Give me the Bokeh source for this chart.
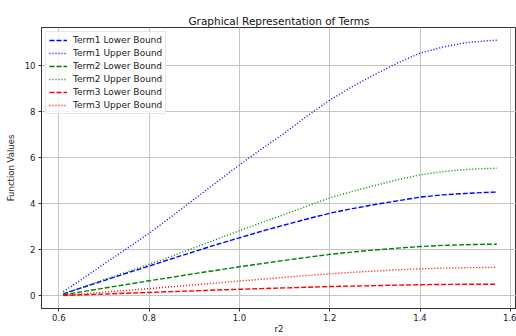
from bokeh.plotting import figure
from bokeh.models import Range1d, FixedTicker, PrintfTickFormatter, Legend, LegendItem
from bokeh.embed import file_html
from bokeh.resources import INLINE

r2 = [0.61, 0.65, 0.70, 0.75, 0.80, 0.85, 0.90, 0.95, 1.00, 1.05, 1.10,
      1.15, 1.20, 1.25, 1.30, 1.35, 1.40, 1.45, 1.50, 1.55, 1.57]

term1_upper = [0.18, 0.70, 1.38, 2.04, 2.72, 3.45, 4.20, 4.95, 5.69, 6.40, 7.08,
               7.82, 8.51, 9.10, 9.63, 10.13, 10.56, 10.82, 11.01, 11.10, 11.12]
term1_lower = [0.08, 0.34, 0.66, 0.98, 1.29, 1.61, 1.92, 2.23, 2.52, 2.81, 3.08,
               3.34, 3.59, 3.79, 3.97, 4.13, 4.29, 4.39, 4.45, 4.50, 4.51]
term2_upper = [0.09, 0.36, 0.70, 1.03, 1.37, 1.72, 2.09, 2.46, 2.83, 3.19, 3.54,
               3.90, 4.26, 4.54, 4.80, 5.05, 5.26, 5.40, 5.49, 5.54, 5.55]
term2_lower = [0.04, 0.17, 0.33, 0.49, 0.65, 0.80, 0.96, 1.11, 1.26, 1.40, 1.54,
               1.67, 1.80, 1.90, 1.99, 2.07, 2.14, 2.19, 2.22, 2.24, 2.24]
term3_upper = [0.02, 0.08, 0.16, 0.23, 0.31, 0.39, 0.47, 0.56, 0.64, 0.72, 0.80,
               0.88, 0.95, 1.02, 1.07, 1.13, 1.17, 1.20, 1.22, 1.23, 1.24]
term3_lower = [0.01, 0.04, 0.07, 0.11, 0.14, 0.18, 0.21, 0.25, 0.28, 0.31, 0.34,
               0.37, 0.40, 0.42, 0.44, 0.46, 0.48, 0.49, 0.50, 0.50, 0.50]

x_ticks = [0.6, 0.8, 1.0, 1.2, 1.4, 1.6]
y_ticks = [0, 2, 4, 6, 8, 10]

series = [
    ("Term1 Lower Bound", term1_lower, "#0000ff", "5 2"),
    ("Term1 Upper Bound", term1_upper, "#0000ff", "1 2"),
    ("Term2 Lower Bound", term2_lower, "#008000", "5 2"),
    ("Term2 Upper Bound", term2_upper, "#008000", "1 2"),
    ("Term3 Lower Bound", term3_lower, "#ff0000", "5 2"),
    ("Term3 Upper Bound", term3_upper, "#ff0000", "1 2"),
]

FONT = "DejaVu Sans"

p = figure(width=516, height=336, output_backend="svg", toolbar_location=None,
           x_range=Range1d(0.5617, 1.6137), y_range=Range1d(-0.556, 11.674),
           min_border_left=41, min_border_right=0, min_border_top=27, min_border_bottom=24,
           title="Graphical Representation of Terms")

p.title.align = "center"
p.title.text_font = FONT
p.title.text_font_size = "10.5px"
p.title.text_font_style = "normal"
p.title.text_color = "#111111"
p.title.standoff = 2

p.background_fill_color = "white"
p.border_fill_color = "white"
p.outline_line_color = "#333333"
p.outline_line_width = 1

for ax in (p.xaxis[0], p.yaxis[0]):
    ax.axis_line_color = "#333333"
    ax.axis_line_width = 1
    ax.major_tick_line_color = "#333333"
    ax.major_tick_out = 3
    ax.major_tick_in = 0
    ax.minor_tick_line_color = None
    ax.major_label_text_font = FONT
    ax.major_label_text_font_size = "8.5px"
    ax.major_label_text_color = "#222222"
    ax.major_label_standoff = 3
    ax.axis_label_text_font = FONT
    ax.axis_label_text_font_size = "8.5px"
    ax.axis_label_text_font_style = "normal"
    ax.axis_label_text_color = "#222222"

p.xaxis.ticker = FixedTicker(ticks=x_ticks)
p.xaxis.formatter = PrintfTickFormatter(format="%.1f")
p.yaxis.ticker = FixedTicker(ticks=y_ticks)
p.yaxis.formatter = PrintfTickFormatter(format="%d")

p.yaxis.axis_label = "Function Values"
p.yaxis.axis_label_standoff = 6
p.xaxis.axis_label = "r2"
p.xaxis.axis_label_standoff = 0
p.xaxis.major_label_standoff = 2

p.grid.grid_line_color = "#c4c4c4"
p.grid.grid_line_width = 1

items = []
for name, ys, color, dash in series:
    r = p.line(r2, ys, line_color=color, line_width=1.4, line_dash=dash)
    items.append(LegendItem(label=name, renderers=[r]))

legend = Legend(items=items, location="top_left")
legend.margin = 4
legend.padding = 3
legend.spacing = 3
legend.glyph_width = 18
legend.glyph_height = 10
legend.label_height = 10
legend.label_standoff = 6
legend.label_text_font = FONT
legend.label_text_font_size = "9px"
legend.label_text_color = "#222222"
legend.border_line_color = "#d0d0d0"
legend.border_line_width = 1
legend.background_fill_alpha = 0.8
p.add_layout(legend)

open("out.html", "w").write(file_html(p, INLINE))
